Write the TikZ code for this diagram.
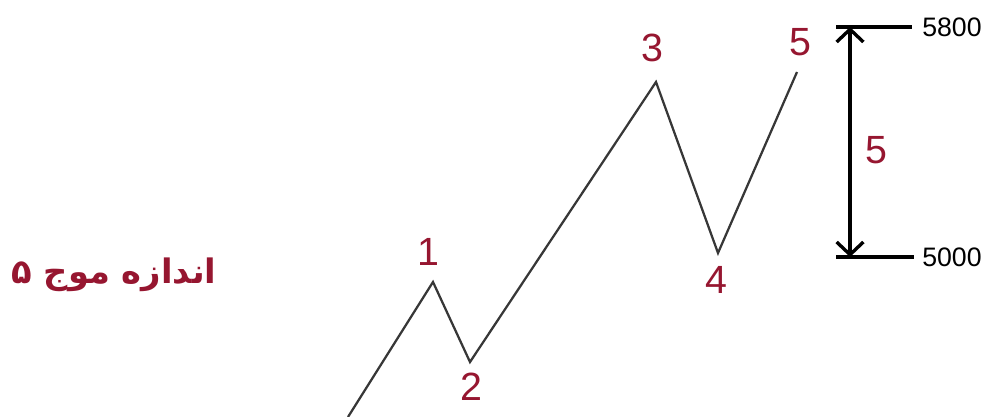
\documentclass[tikz,border=0pt]{standalone}
\usepackage{fontspec}
\setmainfont{Liberation Sans}
\newfontfamily\arabicfont[Script=Arabic]{DejaVu Sans}
\TeXXeTstate=1
\usepackage{xcolor}
\usetikzlibrary{arrows.meta, positioning}
\definecolor{waveRed}{RGB}{150,22,48}
\definecolor{waveGray}{RGB}{55,55,55}

\begin{document}
\begin{tikzpicture}[
    wave/.style={draw=waveGray, line width=1.6pt, line join=miter},
    lbl/.style={text=waveRed, font=\fontsize{28}{30}\selectfont, inner sep=0pt},
    level/.style={draw, line width=2.8pt},
    price/.style={font=\fontsize{19}{21}\selectfont, inner sep=0pt, anchor=west},
]
\useasboundingbox (0,0) rectangle (24.85,10.425);

% Wave points
\coordinate (w0) at (8.7,0);
\coordinate (w1) at (10.825,3.375);
\coordinate (w2) at (11.75,1.375);
\coordinate (w3) at (16.4,8.375);
\coordinate (w4) at (17.95,4.1);
\coordinate (w5) at (19.925,8.625);

\draw[wave] (w0) -- (w1) -- (w2) -- (w3) -- (w4) -- (w5);

% Wave numbers
\node[lbl] (n1) at (10.7,4.125) {1};
\node[lbl] (n2) at (11.775,0.75) {2};
\node[lbl] (n3) at (16.3,9.225) {3};
\node[lbl] (n4) at (17.9,3.425) {4};
\node[lbl] (n5) at (20.0,9.375) {5};

% Size of wave 5
\coordinate (hi-l) at (20.9,9.75);
\coordinate (hi-r) at (22.8,9.75);
\coordinate (lo-l) at (20.9,4.0);
\coordinate (lo-r) at (22.85,4.0);
\coordinate (ar-top) at (21.25,9.75);
\coordinate (ar-bot) at (21.25,4.0);
\draw[level] (hi-l) -- (hi-r);
\draw[level] (lo-l) -- (lo-r);
\draw[line width=2.4pt, {Straight Barb[length=9pt,width=19pt]}-{Straight Barb[length=9pt,width=19pt]}] (ar-top) -- (ar-bot);
\node[price, right=0.25cm of hi-r] (p-hi) {5800};
\node[price, right=0.2cm of lo-r] (p-lo) {5000};
\node[lbl] (size) at (21.9,6.675) {5};

% Title
\node[text=waveRed, font=\arabicfont\bfseries\fontsize{24}{28}\selectfont] (title) at (2.85,3.55) {\beginR اندازه موج ۵\endR};

\end{tikzpicture}
\end{document}
